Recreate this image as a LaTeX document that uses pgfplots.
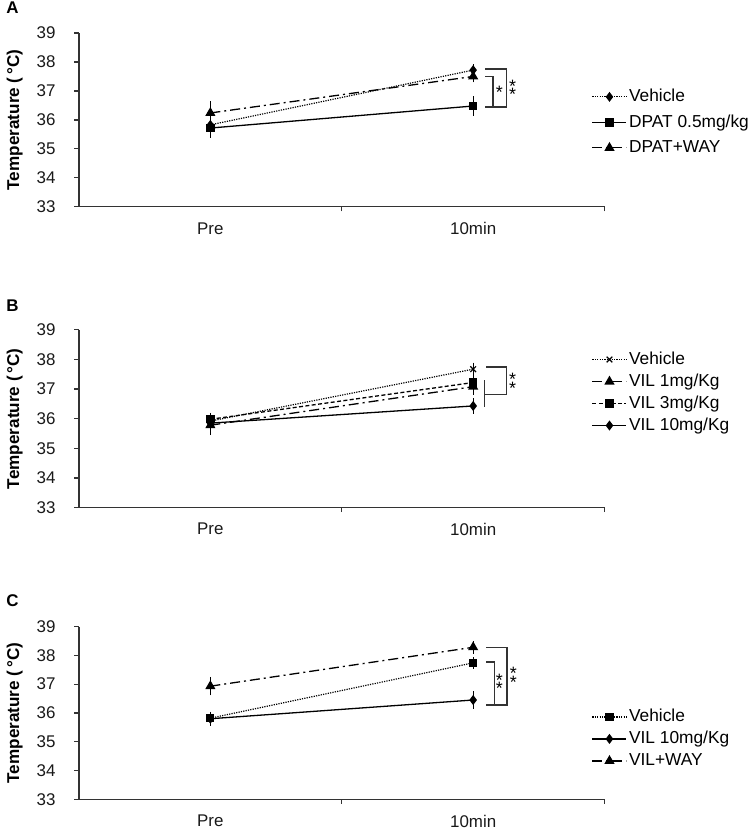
\documentclass[border=0pt]{standalone}
\usepackage{fontspec}
\setmainfont{Liberation Sans}
\usepackage{pgfplots}
\pgfplotsset{compat=1.18}
\tikzset{
  dotline/.style={dash pattern=on 0.6bp off 0.6bp, line width=0.6bp},
  dashdot/.style={dash pattern=on 5bp off 2bp on 1bp off 2bp},
  dashline/.style={dash pattern=on 2bp off 1.2bp},
  mdia/.style={mark=diamond*, mark size=2bp},
  msq/.style={mark=square*, mark size=1.75bp},
  mtri/.style={mark=triangle*, mark size=2.3bp},
  mx/.style={mark=x, mark size=2bp},
  brk/.style={line width=0.65bp, black!80},
  star/.style={font=\fontsize{9}{4.5}\selectfont, inner sep=0pt, anchor=north, align=center},
  plab/.style={font=\fontsize{8.5}{10}\selectfont\bfseries, anchor=base west, inner sep=0pt},
}
\pgfplotsset{
  panel/.style={
    width=263bp, scale only axis, clip=false,
    xmin=0, xmax=2, ymin=33, ymax=39,
    axis lines*=left, axis line style={-, line width=0.6bp, black!80},
    ytick={33,34,...,39},
    xtick={0.5,1.5}, xticklabels={Pre,10min},
    minor xtick={1,2},
    tick align=outside, major tick length=2.25bp, minor tick length=2.25bp,
    major x tick style={draw=none},
    every tick/.style={line width=0.6bp, black!80},
    tick label style={font=\fontsize{8.5}{10}\selectfont, black!90},
    /pgf/number format/assume math mode=true,
    yticklabel style={xshift=-6bp},
    xticklabel style={yshift=-2bp},
    ylabel={Temperature (\,°C)},
    ylabel style={at={(axis description cs:-0.114,0.5)}, anchor=base, font=\fontsize{8.6}{10}\selectfont\bfseries},
    legend style={draw=none, fill=none, anchor=west, font=\fontsize{8.7}{10}\selectfont,
      inner sep=0pt, nodes={inner sep=1bp, text height=7bp, text depth=2bp}},
    legend cell align=left,
    every axis plot/.append style={line width=0.65bp, mark options={solid, fill=black}},
    error bars/error bar style={line width=0.6bp, solid, black},
    error bars/error mark options={line width=0.6bp, mark size=1.75bp, black, solid},
  },
}
\begin{document}
\begin{tikzpicture}
\path (0,0) rectangle (375bp,-417bp);
% ---------------- Panel A
\begin{axis}[panel, height=87bp, at={(38bp,-103.5bp)},
  legend style={at={(0.975,0.486)}, row sep=1.75bp}]
\addplot[black, dotline, mdia, error bars/.cd, y dir=both, y explicit]
  coordinates {(0.5,35.83) +- (0,0.10) (1.5,37.72) +- (0,0.08)};
\addlegendentry{Vehicle}
\addplot[black, solid, msq, error bars/.cd, y dir=both, y explicit]
  coordinates {(0.5,35.72) +- (0,0.22) (1.5,36.48) +- (0,0.21)};
\addlegendentry{DPAT 0.5mg/kg}
\addplot[black, dashdot, mtri, error bars/.cd, y dir=both, y explicit]
  coordinates {(0.5,36.24) +- (0,0.28) (1.5,37.50) +- (0,0.08)};
\addlegendentry{DPAT+WAY}
\draw[brk] (axis cs:1.545,37.50) -- (axis cs:1.575,37.50) -- (axis cs:1.575,36.45) -- (axis cs:1.545,36.45);
\draw[brk] (axis cs:1.545,37.76) -- (axis cs:1.627,37.76) -- (axis cs:1.627,36.45) -- (axis cs:1.575,36.45);
\node[star] at (axis cs:1.600,37.18) {*};
\node[star] at (axis cs:1.650,37.39) {*\\[-3bp]*};
\node[plab] at (axis description cs:-0.139,1.11) {A};
\end{axis}
% ---------------- Panel B
\begin{axis}[panel, height=89bp, at={(38bp,-254bp)},
  legend style={at={(0.975,0.647)}, row sep=0bp}]
\addplot[black, dotline, mx, error bars/.cd, y dir=both, y explicit]
  coordinates {(0.5,35.92) +- (0,0.10) (1.5,37.67) +- (0,0.10)};
\addlegendentry{Vehicle}
\addplot[black, dashdot, mtri, error bars/.cd, y dir=both, y explicit]
  coordinates {(0.5,35.78) +- (0,0.22) (1.5,37.08) +- (0,0.15)};
\addlegendentry{VIL 1mg/Kg}
\addplot[black, dashline, msq, error bars/.cd, y dir=both, y explicit]
  coordinates {(0.5,35.98) +- (0,0.10) (1.5,37.22) +- (0,0.20)};
\addlegendentry{VIL 3mg/Kg}
\addplot[black, solid, mdia, error bars/.cd, y dir=both, y explicit]
  coordinates {(0.5,35.85) +- (0,0.10) (1.5,36.43) +- (0,0.15)};
\addlegendentry{VIL 10mg/Kg}
\draw[brk] (axis cs:1.543,37.29) -- (axis cs:1.543,36.38);
\draw[brk] (axis cs:1.550,37.74) -- (axis cs:1.627,37.74) -- (axis cs:1.627,36.82) -- (axis cs:1.543,36.82);
\node[star] at (axis cs:1.650,37.54) {*\\[-3bp]*};
\node[plab] at (axis description cs:-0.139,1.10) {B};
\end{axis}
% ---------------- Panel C
\begin{axis}[panel, height=86.5bp, at={(38bp,-400bp)},
  legend style={at={(0.975,0.35)}, row sep=0bp}]
\addplot[black, dotline, msq, error bars/.cd, y dir=both, y explicit]
  coordinates {(0.5,35.82) +- (0,0.10) (1.5,37.74) +- (0,0.08)};
\addlegendentry{Vehicle}
\addplot[black, solid, mdia, error bars/.cd, y dir=both, y explicit]
  coordinates {(0.5,35.80) +- (0,0.12) (1.5,36.45) +- (0,0.18)};
\addlegendentry{VIL 10mg/Kg}
\addplot[black, dashdot, mtri, error bars/.cd, y dir=both, y explicit]
  coordinates {(0.5,36.93) +- (0,0.20) (1.5,38.28) +- (0,0.10)};
\addlegendentry{VIL+WAY}
\draw[brk] (axis cs:1.549,37.77) -- (axis cs:1.581,37.77) -- (axis cs:1.581,36.28) -- (axis cs:1.549,36.28);
\draw[brk] (axis cs:1.549,38.28) -- (axis cs:1.629,38.28) -- (axis cs:1.629,36.28) -- (axis cs:1.581,36.28);
\node[star] at (axis cs:1.600,37.36) {*\\[-3bp]*};
\node[star] at (axis cs:1.653,37.59) {*\\[-3bp]*};
\node[plab] at (axis description cs:-0.139,1.115) {C};
\end{axis}
\end{tikzpicture}
\end{document}
